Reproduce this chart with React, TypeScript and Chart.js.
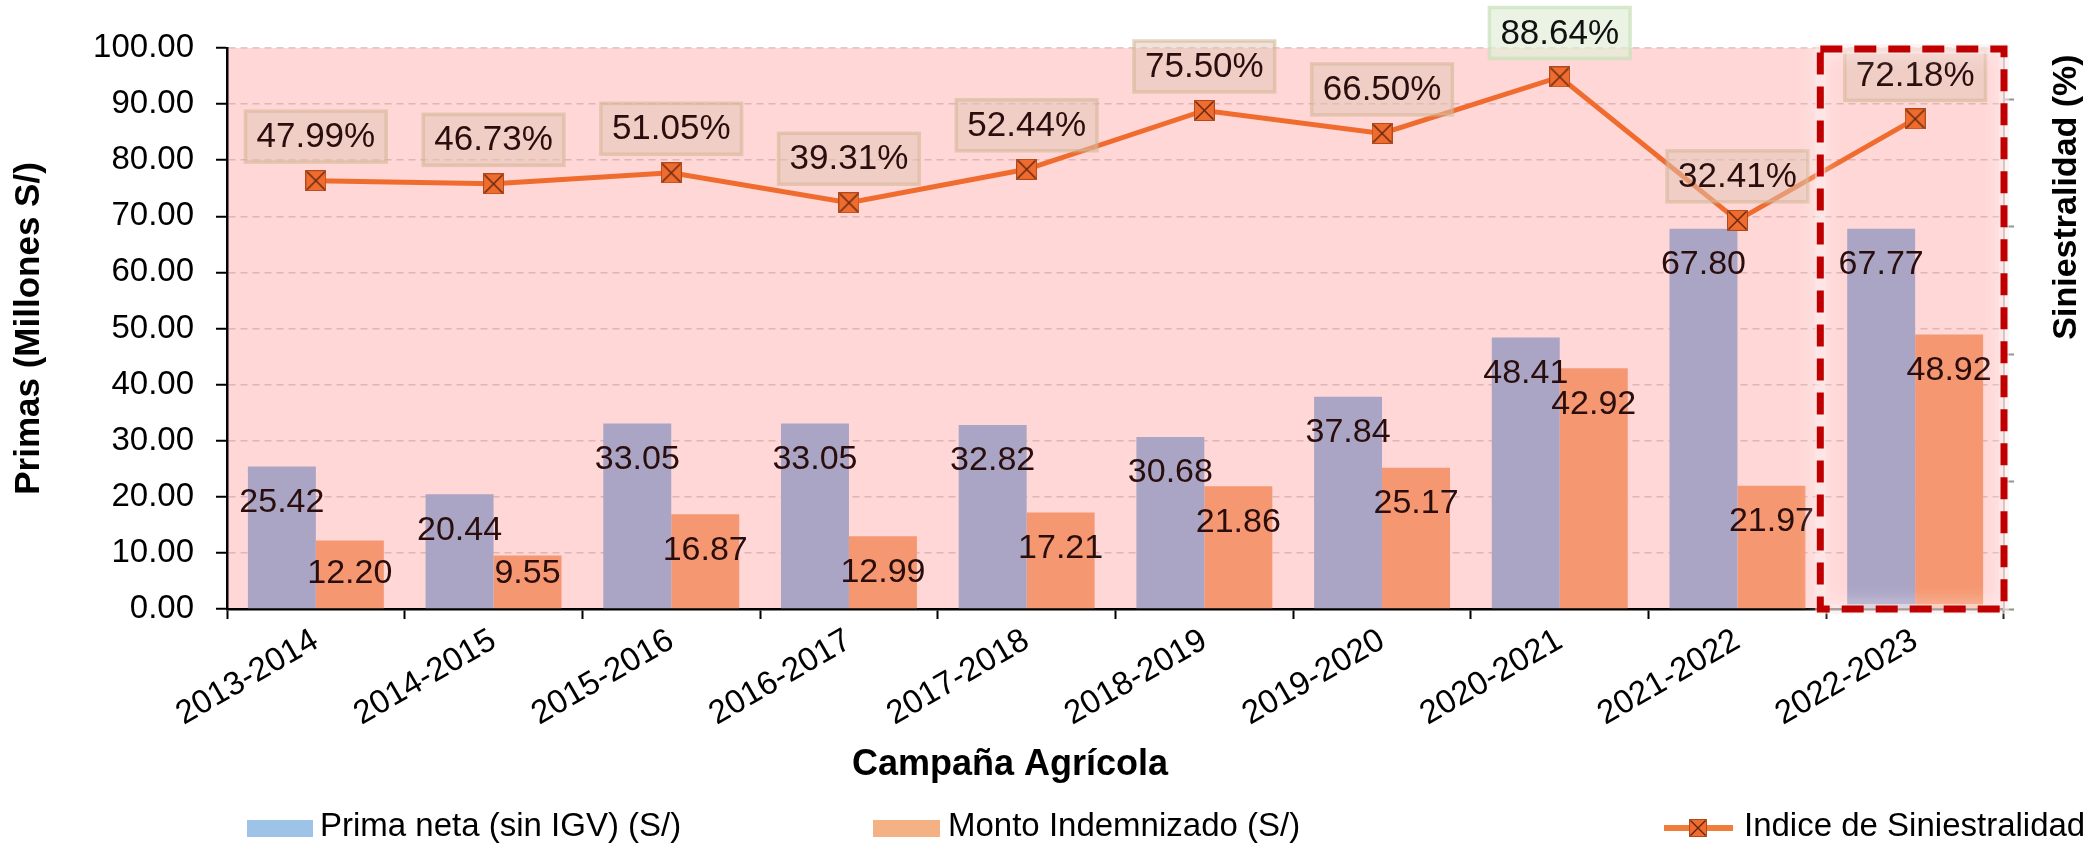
import React, { useEffect, useRef } from 'react';
import { Chart, registerables } from 'chart.js';

Chart.register(...registerables);

// ---------- data ----------
const categories = [
  '2013-2014', '2014-2015', '2015-2016', '2016-2017', '2017-2018',
  '2018-2019', '2019-2020', '2020-2021', '2021-2022', '2022-2023',
];
const primaNeta = [25.42, 20.44, 33.05, 33.05, 32.82, 30.68, 37.84, 48.41, 67.8, 67.77];
const montoIndemnizado = [12.2, 9.55, 16.87, 12.99, 17.21, 21.86, 25.17, 42.92, 21.97, 48.92];
const siniestralidad = [47.99, 46.73, 51.05, 39.31, 52.44, 75.5, 66.5, 88.64, 32.41, 72.18];
const rightAxisTicks = [-120, -70, -20, 30, 80];
const seriesNames = ['Prima neta (sin IGV) (S/)', 'Monto Indemnizado (S/)', 'Indice de Siniestralidad'];
const highlightIndex = 9;
const greenLabelIndex = 7;

// ---------- styles ----------
const FONT = '"Liberation Sans", Arial, Helvetica, sans-serif';
const PINK = '#FFD7D7';
const BAR_BLUE = '#ABA5C5';
const BAR_ORANGE = '#F59770';
const LINE_ORANGE = '#EF6C2E';
const LEGEND_BLUE = '#9DC3E6';
const LEGEND_ORANGE = '#F4B183';
const LABEL_COLOR = '#2A0D0D';

function makeMarker(size: number): HTMLCanvasElement {
  const c = document.createElement('canvas');
  c.width = size;
  c.height = size;
  const g = c.getContext('2d')!;
  g.fillStyle = LINE_ORANGE;
  g.fillRect(0, 0, size, size);
  g.strokeStyle = 'rgba(170,70,25,0.9)';
  g.lineWidth = 1;
  g.strokeRect(0.5, 0.5, size - 1, size - 1);
  g.strokeStyle = '#5A2410';
  g.lineWidth = 1.3;
  g.beginPath();
  g.moveTo(1.5, 1.5);
  g.lineTo(size - 1.5, size - 1.5);
  g.moveTo(size - 1.5, 1.5);
  g.lineTo(1.5, size - 1.5);
  g.stroke();
  return c;
}

const bgPlugin = {
  id: 'plotBg',
  beforeDraw(chart: any) {
    const { ctx, chartArea } = chart;
    ctx.save();
    ctx.fillStyle = PINK;
    ctx.fillRect(chartArea.left, chartArea.top, chartArea.right - chartArea.left, chartArea.bottom - chartArea.top);
    ctx.restore();
  },
};

const labelsPlugin = {
  id: 'valueLabels',
  afterDatasetsDraw(chart: any) {
    const { ctx } = chart;
    ctx.save();
    ctx.font = `34px ${FONT}`;
    ctx.fillStyle = LABEL_COLOR;
    ctx.textAlign = 'center';
    ctx.textBaseline = 'middle';
    [0, 1].forEach((di) => {
      const meta = chart.getDatasetMeta(di);
      const data = chart.data.datasets[di].data as number[];
      meta.data.forEach((el: any, i: number) => {
        const y = Math.min(el.y + 36, el.base - 35);
        ctx.fillText(data[i].toFixed(2), el.x, y);
      });
    });
    // percentage boxes
    ctx.font = `35px ${FONT}`;
    const lmeta = chart.getDatasetMeta(2);
    const ldata = chart.data.datasets[2].data as number[];
    lmeta.data.forEach((el: any, i: number) => {
      const txt = ldata[i].toFixed(2) + '%';
      const tw = ctx.measureText(txt).width;
      const w = tw + 22;
      const h = 51;
      const cy = el.y - 44;
      const green = i === greenLabelIndex;
      ctx.fillStyle = green ? 'rgba(226,240,217,0.7)' : 'rgba(225,198,182,0.5)';
      ctx.fillRect(el.x - w / 2, cy - h / 2, w, h);
      ctx.strokeStyle = green ? 'rgba(200,225,185,0.7)' : 'rgba(210,180,145,0.55)';
      ctx.lineWidth = 3.5;
      ctx.strokeRect(el.x - w / 2, cy - h / 2, w, h);
      ctx.fillStyle = green ? '#111' : LABEL_COLOR;
      ctx.fillText(txt, el.x, cy + 1);
    });
    ctx.restore();
  },
};

const overlayPlugin = {
  id: 'overlay',
  afterDraw(chart: any) {
    const { ctx, chartArea } = chart;
    const xs = chart.scales.x;
    const catW = xs.getPixelForValue(1) - xs.getPixelForValue(0);
    const left = xs.getPixelForValue(highlightIndex) - catW / 2 - 6;
    const right = chartArea.right;
    const top = chartArea.top + 1;
    const bottom = chartArea.bottom;

    // soft white glow
    ctx.save();
    ctx.shadowColor = 'rgba(255,255,255,1)';
    ctx.shadowBlur = 18;
    ctx.strokeStyle = 'rgba(255,235,235,0.55)';
    ctx.lineWidth = 10;
    ctx.strokeRect(left, top, right - left, bottom - top);
    ctx.restore();

    // red dashed box
    ctx.save();
    ctx.setLineDash([22, 12]);
    ctx.lineWidth = 7;
    ctx.strokeStyle = '#C00000';
    ctx.strokeRect(left, top, right - left, bottom - top);
    ctx.restore();

    // right axis title
    ctx.save();
    ctx.fillStyle = '#000';
    ctx.font = `bold 34px ${FONT}`;
    ctx.textAlign = 'center';
    ctx.textBaseline = 'middle';
    ctx.translate(2067, 197);
    ctx.rotate(-Math.PI / 2);
    ctx.fillText('Siniestralidad (%)', 0, 0);
    ctx.restore();

    // x axis title
    ctx.save();
    ctx.fillStyle = '#000';
    ctx.font = `bold 36px ${FONT}`;
    ctx.textAlign = 'center';
    ctx.textBaseline = 'middle';
    ctx.fillText('Campaña Agrícola', 1010, 765);
    ctx.restore();

    // legend
    ctx.save();
    const ly = 828;
    ctx.font = `33px ${FONT}`;
    ctx.textBaseline = 'middle';
    ctx.textAlign = 'left';
    ctx.fillStyle = LEGEND_BLUE;
    ctx.fillRect(247, ly - 8, 66, 17);
    ctx.fillStyle = '#000';
    ctx.fillText(seriesNames[0], 320, ly - 1);
    ctx.fillStyle = LEGEND_ORANGE;
    ctx.fillRect(873, ly - 8, 67, 17);
    ctx.fillStyle = '#000';
    ctx.fillText(seriesNames[1], 948, ly - 1);
    ctx.strokeStyle = '#F07D3A';
    ctx.lineWidth = 6;
    ctx.beginPath();
    ctx.moveTo(1664, ly);
    ctx.lineTo(1733, ly);
    ctx.stroke();
    const mk = makeMarker(18);
    ctx.drawImage(mk, 1698 - 9, ly - 9);
    ctx.fillStyle = '#000';
    ctx.fillText(seriesNames[2], 1744, ly - 1);
    ctx.restore();
  },
};

export default function App() {
  const ref = useRef<HTMLCanvasElement | null>(null);

  useEffect(() => {
    if (!ref.current) return;
    const marker = makeMarker(21);
    const chart = new Chart(ref.current, {
      type: 'bar',
      data: {
        labels: categories,
        datasets: [
          {
            type: 'bar',
            label: seriesNames[0],
            data: primaNeta,
            backgroundColor: BAR_BLUE,
            yAxisID: 'y',
            order: 2,
            categoryPercentage: 0.765,
            barPercentage: 1,
          },
          {
            type: 'bar',
            label: seriesNames[1],
            data: montoIndemnizado,
            backgroundColor: BAR_ORANGE,
            yAxisID: 'y',
            order: 2,
            categoryPercentage: 0.765,
            barPercentage: 1,
          },
          {
            type: 'line',
            label: seriesNames[2],
            data: siniestralidad,
            yAxisID: 'y2',
            borderColor: LINE_ORANGE,
            borderWidth: 5,
            tension: 0,
            fill: false,
            pointStyle: marker as any,
            pointRadius: 10,
            order: 0,
          } as any,
        ],
      },
      options: {
        responsive: false,
        animation: false,
        devicePixelRatio: 1,
        layout: { padding: { top: 48, left: 0, right: 0, bottom: 0 } },
        plugins: {
          legend: { display: false },
          tooltip: { enabled: false },
        },
        scales: {
          x: {
            type: 'category',
            offset: true,
            grid: {
              offset: true,
              drawOnChartArea: false,
              drawTicks: true,
              tickLength: 10,
              tickColor: '#000',
              tickWidth: 2,
            },
            border: { color: '#000', width: 2.5 },
            ticks: {
              autoSkip: false,
              minRotation: 30,
              maxRotation: 30,
              padding: 2,
              color: '#000',
              font: { size: 33, family: FONT },
            },
            afterFit: (s: any) => {
              s.height = 236;
            },
          },
          y: {
            position: 'left',
            min: 0,
            max: 100,
            grid: {
              color: 'rgba(185,140,140,0.45)',
              lineWidth: 1.5,
              drawTicks: true,
              tickLength: 11,
              tickColor: '#000',
              tickWidth: 2,
            },
            border: { color: '#000', width: 2.5, dash: [7, 5] },
            ticks: {
              stepSize: 10,
              padding: 22,
              color: '#000',
              font: { size: 33, family: FONT },
              callback: (v: any) => Number(v).toFixed(2),
            },
            title: {
              display: true,
              text: 'Primas (Millones S/)',
              color: '#000',
              font: { size: 35, weight: 'bold', family: FONT },
              padding: { top: 8, bottom: 0 },
            },
            afterFit: (s: any) => {
              s.width = 227;
            },
          },
          y2: {
            position: 'right',
            min: -120,
            max: 100,
            grid: {
              drawOnChartArea: false,
              drawTicks: true,
              tickLength: 10,
              tickColor: '#7F7F7F',
              tickWidth: 2,
            },
            border: { color: '#7F7F7F', width: 2 },
            ticks: { display: false },
            afterBuildTicks: (axis: any) => {
              axis.ticks = rightAxisTicks.map((v) => ({ value: v }));
            },
            afterFit: (s: any) => {
              s.width = 86;
            },
          },
        },
      } as any,
      plugins: [bgPlugin, labelsPlugin, overlayPlugin],
    });
    return () => chart.destroy();
  }, []);

  return (
    <div style={{ position: 'absolute', left: 0, top: 0, width: 2090, height: 845, background: '#fff' }}>
      <canvas ref={ref} width={2090} height={845} style={{ width: 2090, height: 845, display: 'block' }} />
    </div>
  );
}
